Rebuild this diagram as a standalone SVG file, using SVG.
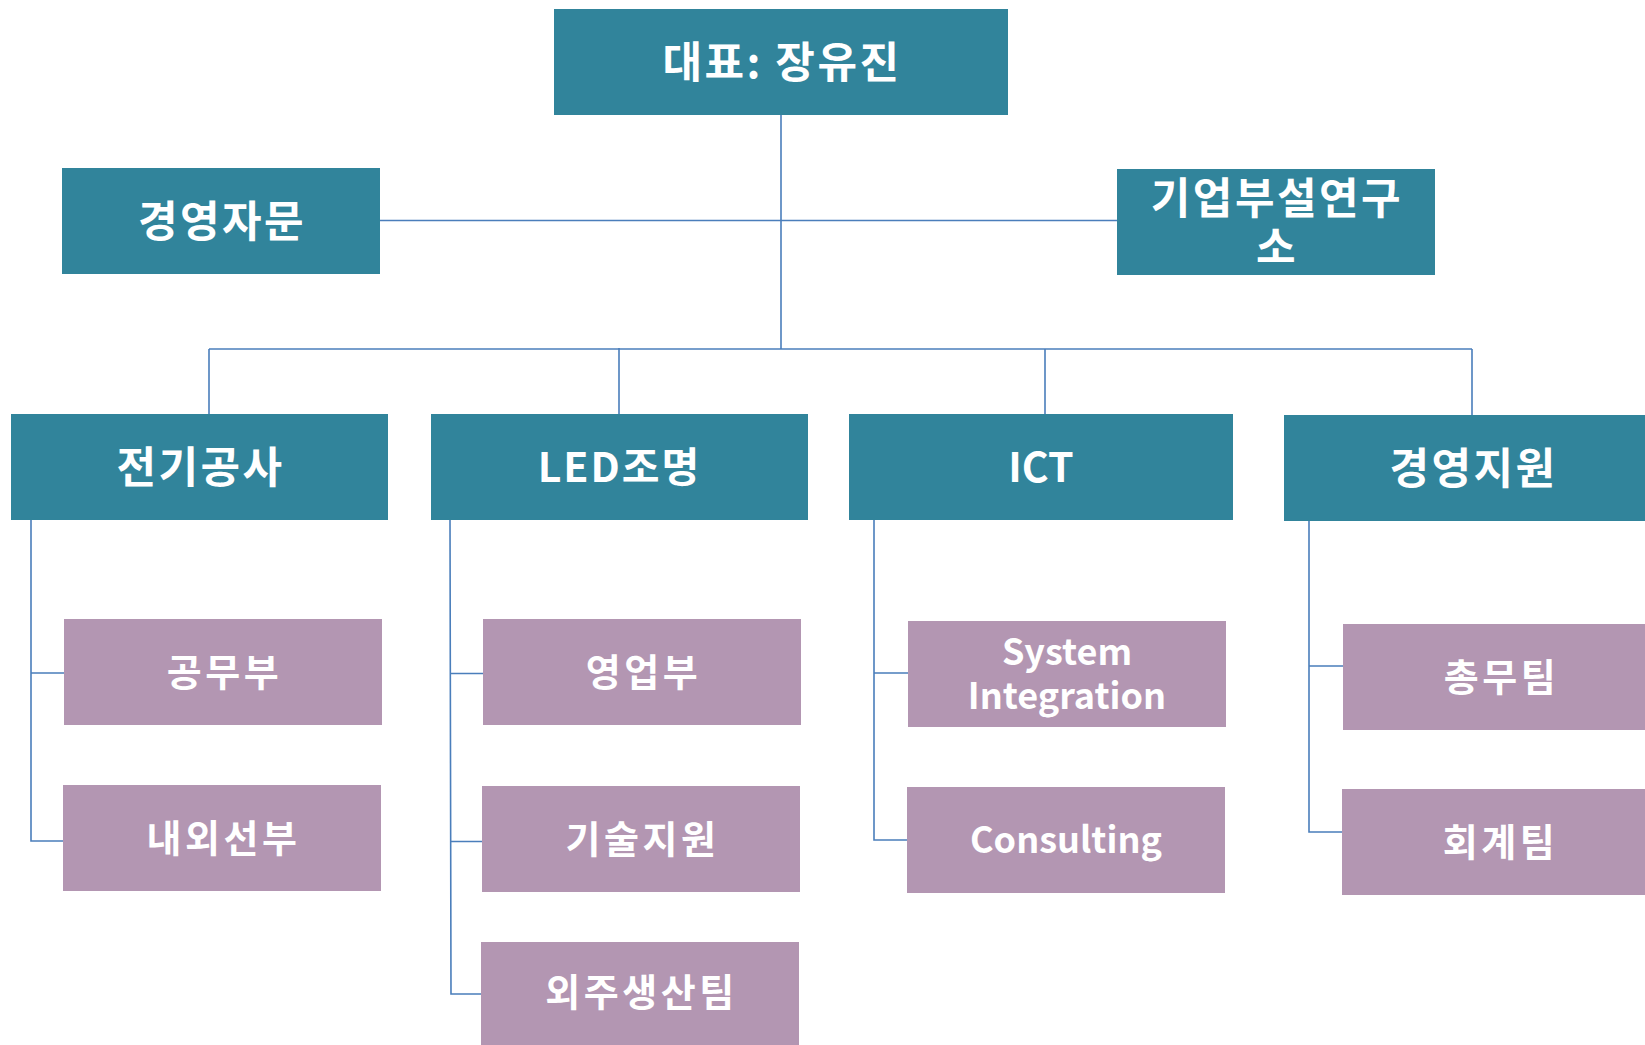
<svg xmlns="http://www.w3.org/2000/svg" width="1645" height="1045" viewBox="0 0 1645 1045">
<style>
.t{fill:#31849B}
.p{fill:#B396B2}
text{font-family:"Noto Sans CJK KR","Noto Sans",sans-serif;font-weight:bold;fill:#FFFFFF;text-anchor:middle}
.big{font-size:41px}
.sm{font-size:36px}
.kb{font-size:43px;letter-spacing:2.5px}
.ks{font-size:38px;letter-spacing:3.5px}
#connectors path{fill:none;stroke:#4A7EBB;stroke-width:1.6}
</style>
<rect width="1645" height="1045" fill="#FFFFFF"/>
<g id="connectors">
<path d="M781 115V349"/>
<path d="M380 220.5H1117"/>
<path d="M209 349H1472"/>
<path d="M209 349V414M619 348V414M1045 349V414M1472 349V415"/>
<path d="M31 520V841H63M31 673H64"/>
<path d="M450 520L451 994H481M450.5 673.5H483M451 841.5H482"/>
<path d="M874 520V840H907M874 673H908"/>
<path d="M1309 520.5V832H1342M1309 666H1343"/>
</g>
<g id="n-ceo"><rect class="t" x="554" y="9" width="454" height="106"/><text class="kb" x="782" y="78">대표: 장유진</text></g>
<g id="n-advice"><rect class="t" x="62" y="168" width="318" height="106"/><text class="kb" x="222" y="237">경영자문</text></g>
<g id="n-lab"><rect class="t" x="1117" y="169" width="318" height="106"/><text class="kb"><tspan x="1277" y="214">기업부설연구</tspan><tspan x="1277" y="263">소</tspan></text></g>
<g id="n-elec"><rect class="t" x="11" y="414" width="377" height="106"/><text class="kb" x="200.5" y="483">전기공사</text></g>
<g id="n-led"><rect class="t" x="431" y="414" width="377" height="106"/><text class="big" x="619.5" y="482" letter-spacing="2">LED조명</text></g>
<g id="n-ict"><rect class="t" x="849" y="414" width="384" height="106"/><text class="big" x="1041" y="482">ICT</text></g>
<g id="n-mgmt"><rect class="t" x="1284" y="415" width="377" height="106"/><text class="kb" x="1473.5" y="484">경영지원</text></g>
<g id="n-gongmu"><rect class="p" x="64" y="619" width="318" height="106"/><text class="ks" x="224.5" y="686">공무부</text></g>
<g id="n-naewoe"><rect class="p" x="63" y="785" width="318" height="106"/><text class="ks" x="223.5" y="852">내외선부</text></g>
<g id="n-sales"><rect class="p" x="483" y="619" width="318" height="106"/><text class="ks" x="643.5" y="686">영업부</text></g>
<g id="n-tech"><rect class="p" x="482" y="786" width="318" height="106"/><text class="ks" x="642.5" y="853">기술지원</text></g>
<g id="n-outsrc"><rect class="p" x="481" y="942" width="318" height="106"/><text class="ks" x="641.5" y="1006">외주생산팀</text></g>
<g id="n-si"><rect class="p" x="908" y="621" width="318" height="106"/><text class="sm"><tspan x="1067" y="665">System</tspan><tspan x="1067" y="709">Integration</tspan></text></g>
<g id="n-consult"><rect class="p" x="907" y="787" width="318" height="106"/><text class="sm" x="1066" y="853">Consulting</text></g>
<g id="n-general"><rect class="p" x="1343" y="624" width="318" height="106"/><text class="ks" x="1501.5" y="691">총무팀</text></g>
<g id="n-account"><rect class="p" x="1342" y="789" width="318" height="106"/><text class="ks" x="1500.5" y="856">회계팀</text></g>
</svg>
